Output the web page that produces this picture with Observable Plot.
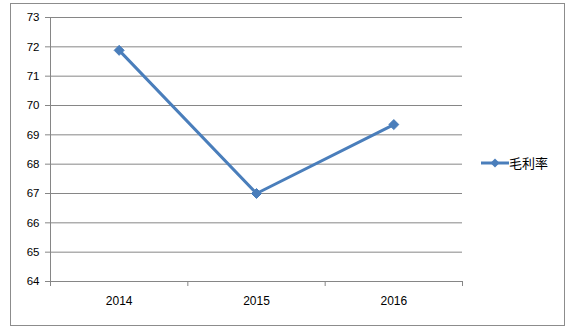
<!DOCTYPE html>
<html><head><meta charset="utf-8">
<script src="https://cdn.jsdelivr.net/npm/d3@7"></script>
<script src="https://cdn.jsdelivr.net/npm/@observablehq/plot@0.6"></script>
<style>
body{margin:0;background:#fff;}
#wrap{position:relative;width:568px;height:330px;overflow:hidden;}
#border{position:absolute;left:10px;top:3px;width:553px;height:321px;border:1px solid #8c8c8c;pointer-events:none;}
#legend{position:absolute;left:481px;top:153px;display:flex;align-items:center;font:13px "Noto Sans CJK SC",sans-serif;color:#000;}
#legend svg{display:block;}
</style></head><body><div id="wrap"><div id="border"></div></div>
<script>
const years = [2014, 2015, 2016];
const grossMargin = [71.88, 67.0, 69.35];
const yTicks = [64, 65, 66, 67, 68, 69, 70, 71, 72, 73];
const seriesName = "毛利率";

const data = years.map((y, i) => ({year: y, value: grossMargin[i]}));
const bounds = years.map(y => y - 0.5).concat([years[years.length - 1] + 0.5]);
const color = "#4a7ebb";
const gray = "#868686";

const chart = Plot.plot({
  width: 568,
  height: 330,
  marginLeft: 50,
  marginRight: 106,
  marginTop: 17,
  marginBottom: 49,
  style: {fontFamily: "'Liberation Sans', Arial, sans-serif", fontSize: "11.5px", color: "#000", background: "transparent"},
  x: {type: "linear", domain: [bounds[0], bounds[bounds.length - 1]], axis: null, label: null},
  y: {domain: [yTicks[0], yTicks[yTicks.length - 1]], axis: null, label: null},
  marks: [
    Plot.gridY(yTicks, {stroke: gray, strokeOpacity: 1}),
    Plot.axisY(yTicks, {label: null, tickSize: 5, tickPadding: 6, stroke: gray, strokeOpacity: 1, fill: "#000", tickFormat: d => String(d)}),
    Plot.ruleX([bounds[0]], {stroke: gray}),
    Plot.ruleY([yTicks[0]], {stroke: gray}),
    Plot.axisX(bounds, {label: null, tickSize: 5, stroke: gray, tickFormat: () => ""}),
    Plot.axisX(years, {label: null, tickSize: 0, tickPadding: 15, fill: "#000", tickFormat: d => String(d), fontSize: "12px"}),
    Plot.line(data, {x: "year", y: "value", stroke: color, strokeWidth: 3}),
    Plot.dot(data, {x: "year", y: "value", symbol: "diamond2", r: 4.5, fill: color, stroke: color, strokeWidth: 1})
  ]
});
document.getElementById("wrap").prepend(chart);

const legend = document.createElement("div");
legend.id = "legend";
legend.innerHTML = `<svg width="28" height="12"><line x1="0" y1="6" x2="28" y2="6" stroke="${color}" stroke-width="3"/><path d="M14,1.5L18.5,6L14,10.5L9.5,6Z" fill="${color}"/></svg><span>${seriesName}</span>`;
document.getElementById("wrap").appendChild(legend);
</script>
</body></html>
